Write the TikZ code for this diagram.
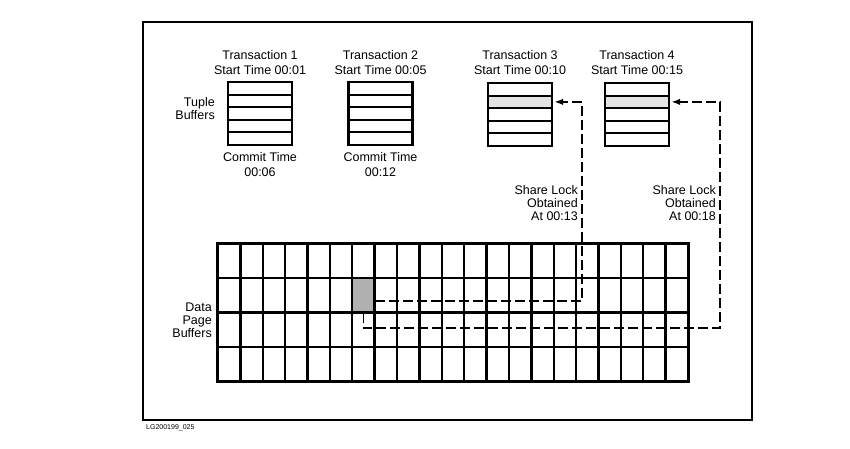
\documentclass[tikz,border=0pt]{standalone}
\usepackage{fontspec}
\setmainfont{Liberation Sans}
\usetikzlibrary{arrows.meta}
\tikzset{
  lbl/.style={font=\fontsize{12.5}{14.8}\selectfont, align=center, inner sep=0pt},
  lblr/.style={font=\fontsize{12.5}{13}\selectfont, align=right, inner sep=0pt},
  bufbox/.style={draw, line width=2.8pt, minimum width=64pt, minimum height=63pt, inner sep=0pt},
  bufrow/.style={draw=none, minimum width=64pt, minimum height=12.6pt, inner sep=0pt},
  rowline/.style={line width=2pt},
  gridline/.style={line width=2.4pt},
  lockline/.style={line width=1.8pt, dash pattern=on 10pt off 4pt},
  locktip/.style={-{Latex[length=9pt,width=6.5pt]}, shorten >=2pt},
}
\begin{document}
\begin{tikzpicture}[x=1pt,y=-1pt]
\useasboundingbox (0,0) rectangle (850,448);
% outer frame
\node[draw, line width=2.2pt, minimum width=609pt, minimum height=398pt, inner sep=0pt] (frame) at (447.5,221) {};

% transaction tuple buffers
\foreach \n/\cx/\ty in {1/260/82, 2/380.5/82, 3/520/83, 4/637/83} {
  \node[bufrow] (t\n s) at (\cx,{\ty+12.6*1.5}) {};
}
\fill[gray!22] (t3s.north west) rectangle (t3s.south east);
\fill[gray!22] (t4s.north west) rectangle (t4s.south east);
\foreach \n/\cx/\ty in {1/260/82, 2/380.5/82, 3/520/83, 4/637/83} {
  \node[bufbox] (t\n) at (\cx,{\ty+31.5}) {};
  \foreach \k in {1,...,4} {
    \draw[rowline] ({\cx-32},{\ty+12.6*\k}) -- ({\cx+32},{\ty+12.6*\k});
  }
}

% labels above/below buffers
\node[lbl] (h1) at (260,62.5) {Transaction 1\\Start Time 00:01};
\node[lbl] (h2) at (380.5,62.5) {Transaction 2\\Start Time 00:05};
\node[lbl] (h3) at (520,62.5) {Transaction 3\\Start Time 00:10};
\node[lbl] (h4) at (637,62.5) {Transaction 4\\Start Time 00:15};
\node[lbl] (c1) at (260,164.5) {Commit Time\\00:06};
\node[lbl] (c2) at (380.5,164.5) {Commit Time\\00:12};
\node[lblr, anchor=east] (tb) at (215,109) {Tuple\\Buffers};

% data page buffers grid
\node[draw=none, minimum width=470pt, minimum height=137pt, inner sep=0pt] (grid) at (453,312.5) {};
\node[fill=gray!62, minimum width=22.38pt, minimum height=34.25pt, inner sep=0pt] (cell) at ({218+6.5*470/21},{244+1.5*34.25}) {};
\foreach \i in {1,...,20} {
  \draw[gridline] ({218+\i*470/21},244) -- ({218+\i*470/21},381);
}
\foreach \j in {1,2,3} {
  \draw[gridline] (218,{244+\j*34.25}) -- (688,{244+\j*34.25});
}
\draw[line width=3.2pt] (grid.north west) rectangle (grid.south east);
\node[lblr, anchor=east] (dp) at (212,320) {Data\\Page\\Buffers};

% share lock connectors
\coordinate (k1) at (582,0);
\coordinate (k2) at (720,328);
\draw[lockline, locktip] ([yshift=-5.3pt]cell.east) -| (k1 |- t3s.east) -- (t3s.east);
\draw[lockline, locktip] (cell.south) |- (k2) -- (k2 |- t4s.east) -- (t4s.east);
\node[lblr, anchor=east] (s3) at (578,203) {Share Lock\\Obtained\\At 00:13};
\node[lblr, anchor=east] (s4) at (716,203) {Share Lock\\Obtained\\At 00:18};

% figure id
\node[font=\fontsize{7}{8}\selectfont, anchor=west, inner sep=0pt] (id) at (146,428) {LG200199\_025};
\end{tikzpicture}
\end{document}
